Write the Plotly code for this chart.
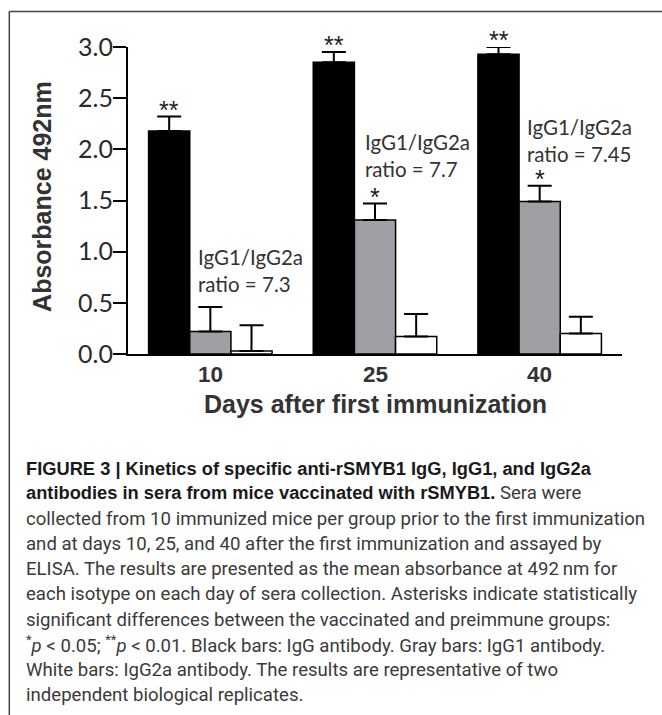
import plotly.graph_objects as go

# ---------------- data ----------------
days = ["10", "25", "40"]
igg = [2.18, 2.85, 2.93]
igg_err = [0.14, 0.10, 0.07]
igg1 = [0.22, 1.31, 1.49]
igg1_err = [0.24, 0.16, 0.155]
igg2a = [0.03, 0.17, 0.20]
igg2a_err = [0.25, 0.22, 0.165]
sig_igg = ["**", "**", "**"]
sig_igg1 = ["", "*", "*"]
ratios = ["7.3", "7.7", "7.45"]
y_ticks = [0.0, 0.5, 1.0, 1.5, 2.0, 2.5, 3.0]

BOLD = ("<span style=\"font-family:'Liberation Sans', Arial, sans-serif;"
        "font-weight:bold;font-size:18.3px;color:#1a1a1a\">")
caption_lines = [
    BOLD + "FIGURE 3 | Kinetics of specific anti-rSMYB1 IgG, IgG1, and IgG2a</span>",
    BOLD + "antibodies in sera from mice vaccinated with rSMYB1.</span> Sera were",
    "collected from 10 immunized mice per group prior to the first immunization",
    "and at days 10, 25, and 40 after the first immunization and assayed by",
    "ELISA. The results are presented as the mean absorbance at 492\u2009nm for",
    "each isotype on each day of sera collection. Asterisks indicate statistically",
    "significant differences between the vaccinated and preimmune groups:",
    "<sup>*</sup><i>p</i> &lt; 0.05; <sup>**</sup><i>p</i> &lt; 0.01. Black bars: IgG antibody. Gray bars: IgG1 antibody.",
    "White bars: IgG2a antibody. The results are representative of two",
    "independent biological replicates.",
]

# ---------------- layout geometry ----------------
W, H = 662, 715
L, R, T, B = 127.7, 621.7, 46.7, 354.5


def px_x(px):
    return (px - L) / (R - L)


def px_y(py):
    return (B - py) / (B - T)


GRAY = "#a0a0a4"
TXT = "#333333"
CAL = "Lato, 'Open Sans', sans-serif"
ARIAL = "'Liberation Sans', Arial, sans-serif"

fig = go.Figure()


def add_bars(vals, errs, color, name):
    fig.add_trace(go.Bar(
        x=days, y=vals, name=name,
        marker=dict(color=color, line=dict(color="black", width=1.5)),
        error_y=dict(type="data", array=errs, arrayminus=[0] * len(errs),
                     symmetric=False, color="black", thickness=2, width=12),
        cliponaxis=False, hoverinfo="skip",
    ))


add_bars(igg, igg_err, "black", "IgG")
add_bars(igg1, igg1_err, GRAY, "IgG1")
add_bars(igg2a, igg2a_err, "white", "IgG2a")

annotations = []
# significance markers
for i in range(len(days)):
    for off, vals, errs, sig in ((-0.25, igg, igg_err, sig_igg), (0.0, igg1, igg1_err, sig_igg1)):
        if sig[i]:
            annotations.append(dict(
                x=i + off, y=vals[i] + errs[i], xref="x", yref="y",
                text=sig[i], showarrow=False, yanchor="middle", yshift=7,
                font=dict(family=ARIAL, size=25, color="#222222"),
            ))

# category labels under the axis
for i, d in enumerate(days):
    annotations.append(dict(
        x=i, y=px_y(375), xref="x", yref="paper", text=f"<b>{d}</b>",
        showarrow=False, xanchor="center", yanchor="middle",
        font=dict(family=ARIAL, size=22.5, color=TXT),
    ))

# ratio labels
ratio_pos = [(-0.089, 0.82), (0.925, 1.937), (1.913, 2.088)]
for (rx, ry), r in zip(ratio_pos, ratios):
    annotations.append(dict(
        x=rx, y=ry, xref="x", yref="y", xanchor="left", yanchor="middle",
        align="left", showarrow=False,
        text=f"IgG1/IgG2a<br>ratio = {r}",
        font=dict(family=CAL, size=20.5, color=TXT),
    ))

# y-axis title
annotations.append(dict(
    x=px_x(41.7), y=px_y(197), xref="paper", yref="paper",
    text="<b>Absorbance 492nm</b>", textangle=-90, showarrow=False,
    xanchor="center", yanchor="middle",
    font=dict(family=ARIAL, size=25, color=TXT),
))
# x-axis title
annotations.append(dict(
    x=0.5, y=px_y(405), xref="paper", yref="paper",
    text="<b>Days after first immunization</b>", showarrow=False,
    xanchor="center", yanchor="middle",
    font=dict(family=ARIAL, size=25, color=TXT),
))

# caption
for k, line in enumerate(caption_lines):
    annotations.append(dict(
        x=px_x(23.5), y=px_y(469 + k * 25.3), xref="paper", yref="paper",
        text=line, showarrow=False, xanchor="left", yanchor="middle",
        align="left",
        font=dict(family="Roboto, 'Liberation Sans', sans-serif", size=18.6,
                  color="#3a3a3a"),
    ))

shapes = [
    dict(type="line", xref="paper", yref="paper",
         x0=px_x(9), x1=px_x(W + 5), y0=px_y(11), y1=px_y(11),
         line=dict(color="#444444", width=1.5)),
    dict(type="line", xref="paper", yref="paper",
         x0=px_x(9), x1=px_x(9), y0=px_y(11), y1=px_y(H + 5),
         line=dict(color="#444444", width=1.5)),
]

fig.update_layout(
    width=W, height=H,
    margin=dict(l=L, r=W - R, t=T, b=H - B, pad=0),
    paper_bgcolor="white", plot_bgcolor="white",
    barmode="group", bargap=0.25, bargroupgap=0,
    showlegend=False,
    annotations=annotations, shapes=shapes,
    xaxis=dict(
        type="category", range=[-0.5, 2.5], showline=True, linecolor="black",
        linewidth=2, ticks="", showgrid=False, zeroline=False,
        showticklabels=False,
    ),
    yaxis=dict(
        range=[0, 3.0], tickvals=y_ticks, tickformat=".1f",
        showline=True, linecolor="black", linewidth=2,
        ticks="outside", ticklen=13, tickwidth=2, tickcolor="black",
        showgrid=False, zeroline=False,
        tickfont=dict(family=CAL, size=25, color="#2a2a2a"),
        ticklabelstandoff=-5,
    ),
)

fig.write_html(
    "out.html",
    config={"displayModeBar": False},
    post_script="document.body.style.margin='0';document.body.style.overflow='hidden';",
)
